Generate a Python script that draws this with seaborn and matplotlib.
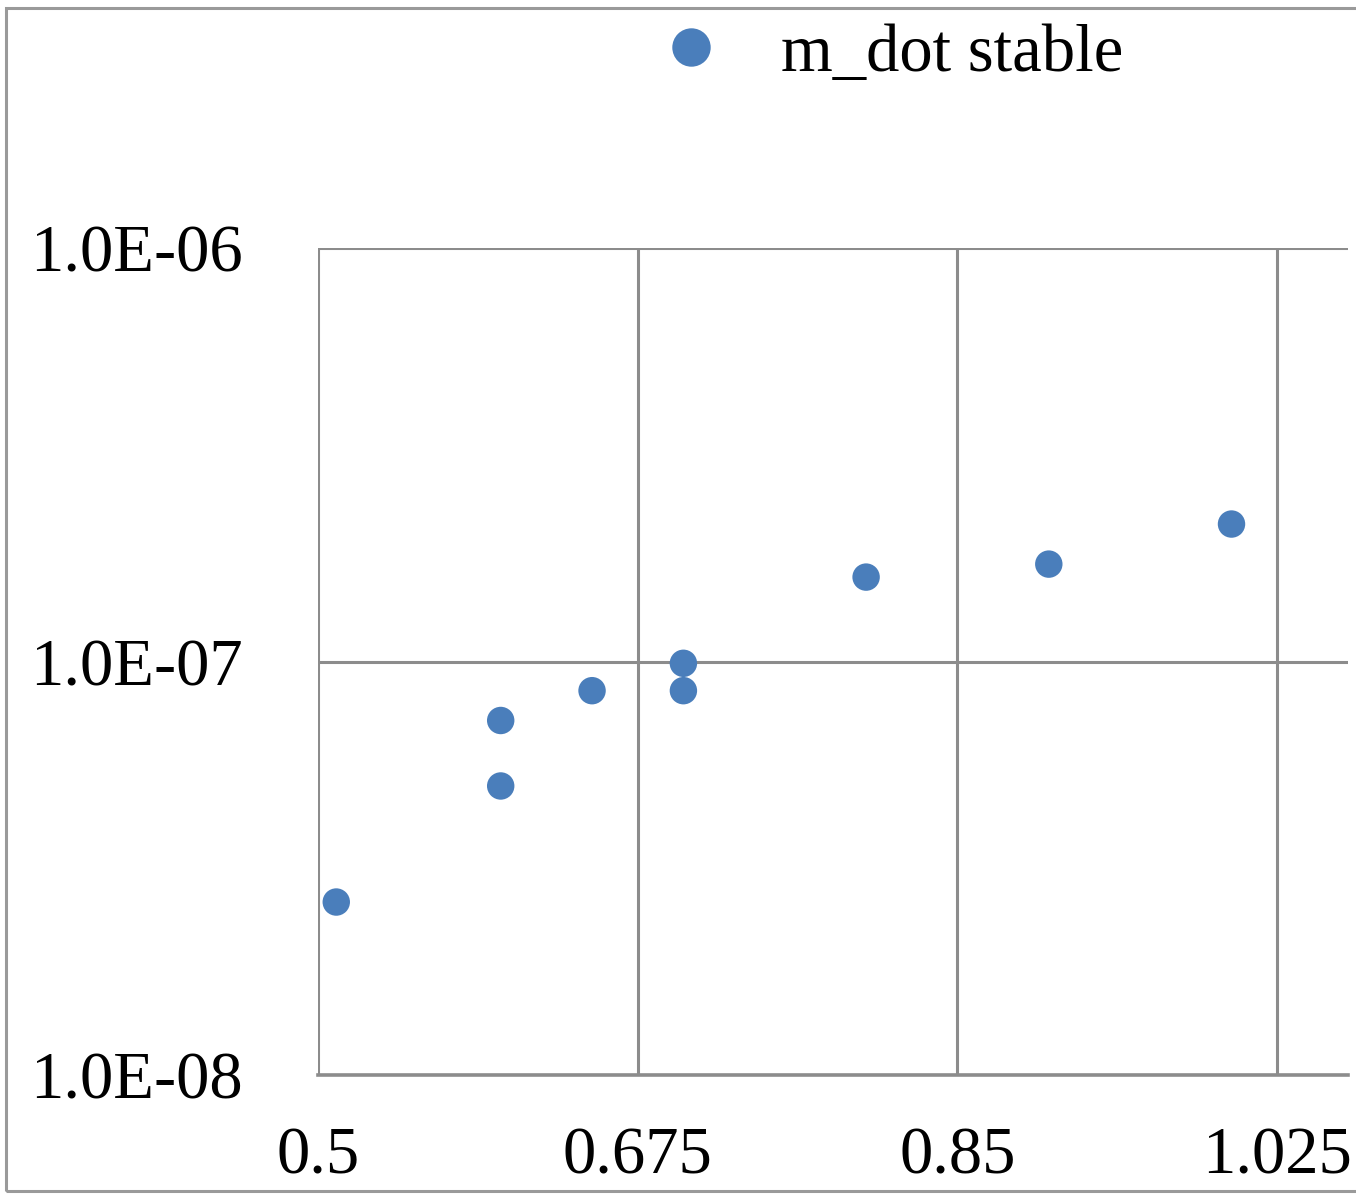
import matplotlib
matplotlib.use("Agg")
import matplotlib.pyplot as plt
import matplotlib.patches as mpatches
import seaborn as sns
import pandas as pd

# Mass flow rate measurements (stable regime)
x_vals = [0.51, 0.60, 0.60, 0.65, 0.70, 0.70, 0.80, 0.90, 1.00]
m_dot = [2.62e-8, 7.2e-8, 5.0e-8, 8.5e-8, 9.9e-8, 8.5e-8, 1.6e-7, 1.72e-7, 2.15e-7]
series_name = "m_dot stable"

x_ticks = [0.5, 0.675, 0.85, 1.025]
x_tick_labels = ["0.5", "0.675", "0.85", "1.025"]
y_ticks = [1e-8, 1e-7, 1e-6]
y_tick_labels = ["1.0E-08", "1.0E-07", "1.0E-06"]

df = pd.DataFrame({"x": x_vals, "m_dot": m_dot, "series": series_name})

sns.set_style("white")
plt.rcParams["font.family"] = ["Liberation Serif", "DejaVu Serif"]
plt.rcParams["text.color"] = "black"

fig = plt.figure(figsize=(13.56, 11.95), dpi=100)
ax = fig.add_axes([318 / 1356, 1 - 1075 / 1195, (1348 - 318) / 1356, (1075 - 248) / 1195])

point_color = "#4A7EBB"
sns.scatterplot(data=df, x="x", y="m_dot", hue="series", palette=[point_color],
                s=390, edgecolor="none", linewidth=0, ax=ax, zorder=3)

ax.set_yscale("log")
ax.set_xlim(0.5, 0.5 + (1348 - 318) / 1827)
ax.set_ylim(1e-8, 1e-6)
ax.set_xticks(x_ticks)
ax.set_xticklabels(x_tick_labels)
ax.set_yticks(y_ticks)
ax.set_yticklabels(y_tick_labels)
ax.minorticks_off()
ax.set_xlabel("")
ax.set_ylabel("")

grid_color = "#8c8c8c"
ax.grid(True, color=grid_color, linewidth=2.2)
for side in ["top", "right", "left"]:
    ax.spines[side].set_visible(False)
ax.spines["bottom"].set_color(grid_color)
ax.spines["bottom"].set_linewidth(2.6)
ax.tick_params(axis="both", which="major", length=9, width=2.0, color=grid_color,
               direction="out", labelsize=48, labelcolor="black")
ax.tick_params(axis="y", pad=45)
ax.tick_params(axis="x", pad=28)

handles, labels = ax.get_legend_handles_labels()
leg = ax.legend(handles, labels, loc="center left", bbox_to_anchor=(658 / 1356, 1 - 54 / 1195),
                bbox_transform=fig.transFigure, frameon=False, fontsize=48,
                handlelength=1.0, handletextpad=0.85, borderpad=0, borderaxespad=0,
                markerscale=1.4)
for t in leg.get_texts():
    t.set_color("black")

# Outer chart frame
frame = mpatches.Rectangle((6 / 1356, 4 / 1195), 1.2, 1 - 12 / 1195, transform=fig.transFigure,
                           fill=False, edgecolor="#9a9a9a", linewidth=2.2, clip_on=False)
fig.patches.append(frame)

fig.savefig("out.png", dpi=100)
